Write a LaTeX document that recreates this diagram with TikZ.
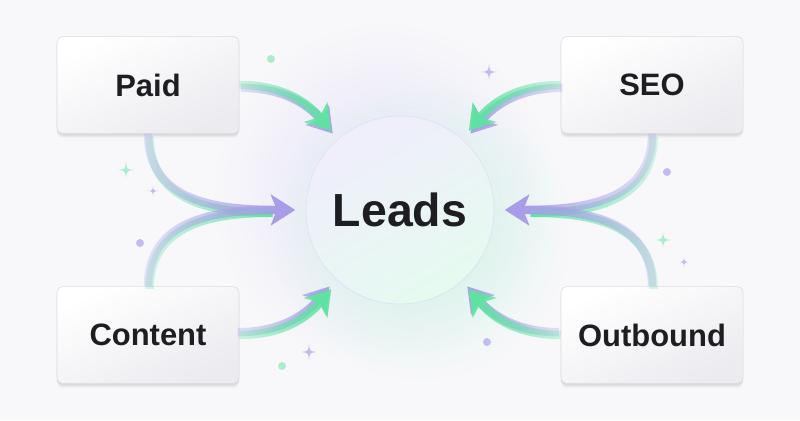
\documentclass[tikz,border=0pt]{standalone}
\usepackage{fontspec}
\setmainfont{Liberation Sans}
\usetikzlibrary{arrows.meta, shadows, fadings, backgrounds}

\definecolor{pagebg}{HTML}{F8F8FB}
\definecolor{mint}{HTML}{5EE4A0}
\definecolor{lav}{HTML}{A99DEA}
\definecolor{mintsoft}{HTML}{A9EDCA}
\definecolor{lavsoft}{HTML}{C3BCF1}
\definecolor{ink}{HTML}{1D1D22}
\definecolor{cardedge}{HTML}{DCDCE4}
\definecolor{cardlow}{HTML}{EBEBF0}

\tikzfading[name=toeast, left color=transparent!75, right color=transparent!0]
\tikzfading[name=towest, left color=transparent!0, right color=transparent!75]
\tikzfading[name=halo, inner color=transparent!0, outer color=transparent!100]

\tikzset{
  sparkle/.pic={
    \fill (0,10) .. controls (1,1) .. (10,0) .. controls (1,-1) .. (0,-10)
      .. controls (-1,-1) .. (-10,0) .. controls (-1,1) .. cycle;
  }
}

\begin{document}
\begin{tikzpicture}[x=0.025cm, y=0.025cm,
    card/.style={rectangle, rounded corners=4pt, draw=cardedge, line width=0.4pt,
      top color=white, bottom color=cardlow, shading angle=25,
      minimum width=4.55cm, minimum height=2.42cm, text=ink,
      font=\bfseries\fontsize{22}{26}\selectfont,
      drop shadow={shadow xshift=0pt, shadow yshift=-3pt, opacity=0.05, fill=black},
      drop shadow={shadow xshift=0pt, shadow yshift=-1.5pt, opacity=0.07, fill=black}},
    hub/.style={circle, minimum size=4.7cm, inner sep=0pt, outer sep=2.75mm,
      draw=lavsoft!50, top color=lav!18, middle color=white, bottom color=mint!16, shading angle=30,
      text=ink, font=\bfseries\fontsize{33}{38}\selectfont},
    flow/.style={line width=2.1mm, -{Stealth[length=6mm, width=7.6mm, inset=1.5mm]}},
    flowmint/.style={flow, mint},
    flowlav/.style={flow, lav},
    under/.style={transform canvas={xshift=0.4mm, yshift=-0.7mm}},
    over/.style={transform canvas={xshift=-0.4mm, yshift=0.7mm}}
]
\useasboundingbox (0,0) rectangle (800,420);

\node[hub] (leads) at (400,210) {Leads};
\node[card] (paid) at (148,335) {Paid};
\node[card] (seo) at (652,335) {SEO};
\node[card] (content) at (148,85) {Content};
\node[card] (outbound) at (652,85) {Outbound};

\begin{scope}[on background layer]
  \fill[pagebg] (0,0) rectangle (800,420);
  \fill[lav!30, path fading=halo] ([shift={(-15,15)}]leads.center) circle (170);
  \fill[mint!28, path fading=halo] ([shift={(20,-20)}]leads.center) circle (150);
\end{scope}

% left side
\draw[flowlav, under, path fading=toeast] (paid.east) to[out=0, in=130] (leads.131);
\draw[flowmint, path fading=toeast] (paid.east) to[out=0, in=130] (leads.131);
\draw[flowmint, -, shorten >=6mm, under, path fading=toeast] (paid.south) to[out=-90, in=180, looseness=1.1] (leads.180);
\draw[flowlav, path fading=toeast] (paid.south) to[out=-90, in=180, looseness=1.1] (leads.180);
\draw[flowmint, -, shorten >=6mm, under, path fading=toeast] (content.north) to[out=90, in=180, looseness=1.1] (leads.180);
\draw[flowlav, path fading=toeast] (content.north) to[out=90, in=180, looseness=1.1] (leads.180);
\draw[flowlav, over, path fading=toeast] (content.east) to[out=0, in=230] (leads.229);
\draw[flowmint, path fading=toeast] (content.east) to[out=0, in=230] (leads.229);

% right side
\draw[flowlav, under, path fading=towest] (seo.west) to[out=180, in=50] (leads.49);
\draw[flowmint, path fading=towest] (seo.west) to[out=180, in=50] (leads.49);
\draw[flowmint, -, shorten >=6mm, under, path fading=towest] (seo.south) to[out=-90, in=0, looseness=1.1] (leads.0);
\draw[flowlav, path fading=towest] (seo.south) to[out=-90, in=0, looseness=1.1] (leads.0);
\draw[flowmint, -, shorten >=6mm, under, path fading=towest] (outbound.north) to[out=90, in=0, looseness=1.1] (leads.0);
\draw[flowlav, path fading=towest] (outbound.north) to[out=90, in=0, looseness=1.1] (leads.0);
\draw[flowlav, over, path fading=towest] (outbound.west) to[out=180, in=-50] (leads.-49);
\draw[flowmint, path fading=towest] (outbound.west) to[out=180, in=-50] (leads.-49);

% sparkles and dots
\pic[mintsoft, scale=0.8] at (126,250) {sparkle};
\pic[lavsoft, scale=0.5] at (153,229) {sparkle};
\pic[lavsoft, scale=0.8] at (489,348) {sparkle};
\pic[mintsoft, scale=0.8] at (663,180) {sparkle};
\pic[lavsoft, scale=0.5] at (684,158) {sparkle};
\pic[lavsoft, scale=0.8] at (309,68) {sparkle};
\fill[mintsoft] (271,361) circle (4);
\fill[lavsoft] (667,248) circle (4);
\fill[lavsoft] (140,177) circle (4);
\fill[mintsoft] (282,54) circle (4);
\fill[lavsoft] (487,78) circle (4);
\end{tikzpicture}
\end{document}
